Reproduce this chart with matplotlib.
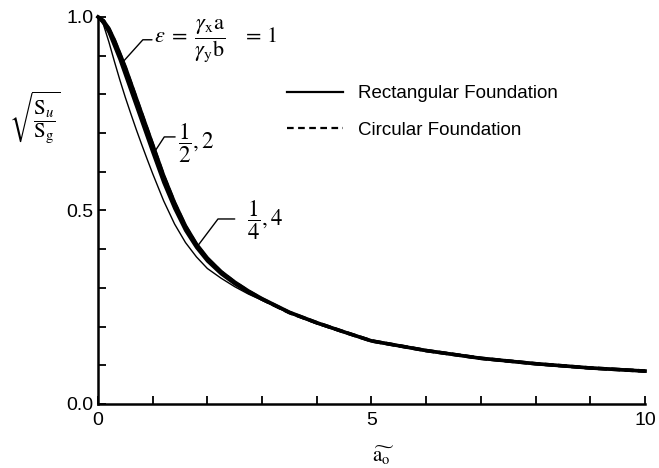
import numpy as np
import matplotlib
matplotlib.use("Agg")
import matplotlib.pyplot as plt
from matplotlib.lines import Line2D

plt.rcParams['font.family'] = ['Liberation Sans', 'DejaVu Sans']
plt.rcParams['mathtext.fontset'] = 'stix'

# data
a0 = [0, 0.1, 0.2, 0.3, 0.4, 0.5, 0.6, 0.7, 0.8, 0.9, 1.0, 1.2, 1.4, 1.6, 1.8, 2.0,
      2.25, 2.5, 2.75, 3.0, 3.5, 4.0, 4.5, 5.0, 6.0, 7.0, 8.0, 9.0, 10.0]
rect_eps1 = [1.0, 0.99, 0.97, 0.94, 0.905, 0.87, 0.83, 0.79, 0.75, 0.71, 0.67, 0.59, 0.52, 0.46, 0.413, 0.377,
             0.342, 0.315, 0.292, 0.272, 0.237, 0.21, 0.186, 0.163, 0.138, 0.118, 0.104, 0.093, 0.085]
circ_eps1 = [1.0, 0.99, 0.968, 0.938, 0.903, 0.867, 0.828, 0.788, 0.748, 0.708, 0.668, 0.588, 0.518, 0.458, 0.411, 0.375,
             0.341, 0.314, 0.291, 0.271, 0.236, 0.21, 0.186, 0.163, 0.138, 0.118, 0.104, 0.093, 0.085]
rect_eps2 = [1.0, 0.985, 0.96, 0.925, 0.89, 0.85, 0.81, 0.77, 0.73, 0.69, 0.65, 0.572, 0.505, 0.448, 0.404, 0.369,
             0.336, 0.31, 0.288, 0.27, 0.236, 0.209, 0.186, 0.163, 0.138, 0.118, 0.104, 0.093, 0.085]
rect_eps4 = [1.0, 0.98, 0.935, 0.885, 0.837, 0.792, 0.75, 0.709, 0.67, 0.632, 0.595, 0.525, 0.465, 0.417, 0.38, 0.35,
             0.325, 0.303, 0.284, 0.268, 0.235, 0.209, 0.186, 0.163, 0.138, 0.118, 0.104, 0.093, 0.085]

x_major = [0, 5, 10]
x_labels = ['0', '5', '10']
y_major = [0.0, 0.5, 1.0]
y_labels = ['0.0', '0.5', '1.0']

fig = plt.figure(figsize=(6.59, 4.68), dpi=100)
ax = fig.add_axes([0.1487, 0.1368, 0.83, 0.827])

ax.plot(a0, rect_eps4, color='black', lw=1.0, clip_on=False)
ax.plot(a0, rect_eps2, color='black', lw=2.2, clip_on=False)
ax.plot(a0, rect_eps1, color='black', lw=2.6, clip_on=False)
ax.plot(a0, circ_eps1, color='black', lw=2.6, ls=(0, (2.5, 1.2)), clip_on=False)

ax.set_xlim(0, 10)
ax.set_ylim(0, 1.0)
ax.set_xticks(x_major)
ax.set_xticklabels(x_labels)
ax.set_yticks(y_major)
ax.set_yticklabels(y_labels)
ax.set_xticks(np.arange(0, 11, 1), minor=True)
ax.set_yticks(np.arange(0, 1.01, 0.1), minor=True)
ax.tick_params(which='both', direction='in', length=6, width=1.3, labelsize=14, pad=3)
ax.tick_params(axis='x', pad=6)
for s in ['top', 'right']:
    ax.spines[s].set_visible(False)
for s in ['left', 'bottom']:
    ax.spines[s].set_linewidth(1.8)

# annotations
ax.text(1.02, 0.938,
        r'$\varepsilon\;=\;\dfrac{\gamma_{\mathrm{x}}\mathrm{a}}{\gamma_{\mathrm{y}}\mathrm{b}}\quad=\,1$',
        fontsize=16, va='center', ha='left')
ax.annotate('', xy=(0.457, 0.884), xytext=(0.987, 0.941),
            arrowprops=dict(arrowstyle='-', lw=1.0, connectionstyle='angle,angleA=180,angleB=48,rad=0',
                            shrinkA=0, shrinkB=0))
ax.text(1.46, 0.672, r'$\dfrac{1}{2}, 2$', fontsize=16.5, va='center', ha='left')
ax.annotate('', xy=(1.005, 0.645), xytext=(1.41, 0.690),
            arrowprops=dict(arrowstyle='-', lw=1.0, connectionstyle='angle,angleA=180,angleB=57,rad=0',
                            shrinkA=0, shrinkB=0))
ax.text(2.72, 0.475, r'$\dfrac{1}{4}, 4$', fontsize=16.5, va='center', ha='left')
ax.annotate('', xy=(1.81, 0.406), xytext=(2.50, 0.478),
            arrowprops=dict(arrowstyle='-', lw=1.0, connectionstyle='angle,angleA=180,angleB=53,rad=0',
                            shrinkA=0, shrinkB=0))

handles = [Line2D([], [], color='black', lw=1.6),
           Line2D([], [], color='black', lw=1.6, ls=(0, (3, 2)))]
ax.legend(handles, ['Rectangular Foundation', 'Circular Foundation'], loc='upper left',
          bbox_to_anchor=(0.345, 0.824), frameon=False, fontsize=13.5, handlelength=3.0,
          handletextpad=0.8, labelspacing=1.05, borderpad=0, borderaxespad=0)

ax.text(-0.115, 0.74, r'$\sqrt{\dfrac{\mathrm{S}_{u}}{\mathrm{S}_{\mathrm{g}}}}$', transform=ax.transAxes,
        fontsize=15, ha='center', va='center')
ax.text(0.521, -0.135, r'$\widetilde{\mathrm{a}_{\mathrm{o}}}$', transform=ax.transAxes,
        fontsize=15, ha='center', va='center')

fig.savefig('out.png', dpi=100)
